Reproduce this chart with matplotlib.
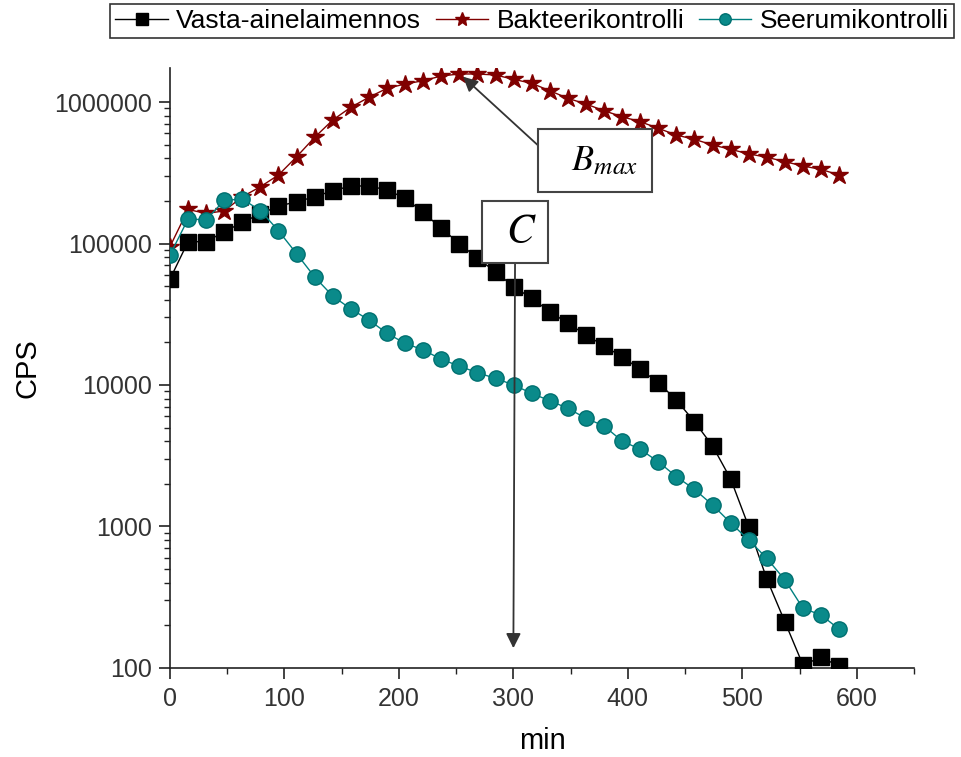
import matplotlib
matplotlib.use("Agg")
import matplotlib.pyplot as plt
from matplotlib.ticker import LogLocator, FixedLocator, MultipleLocator, FuncFormatter

plt.rcParams['font.family'] = ['Liberation Sans', 'DejaVu Sans']
plt.rcParams['mathtext.fontset'] = 'stix'

# measurement times (min)
time_min = [0, 15.8, 31.6, 47.4, 63.2, 79.0, 94.8, 110.6, 126.4, 142.2,
            158.0, 173.8, 189.6, 205.4, 221.2, 237.0, 252.8, 268.6, 284.4, 300.2,
            316.0, 331.8, 347.6, 363.4, 379.2, 395.0, 410.8, 426.6, 442.4, 458.2,
            474.0, 489.8, 505.6, 521.4, 537.2, 553.0, 568.8, 584.6]

vasta = [56000, 103000, 103000, 121000, 141000, 162000, 184000, 197000, 214000, 236000,
         255000, 255000, 239000, 209000, 166000, 128000, 100000, 78600, 63200, 49500,
         41000, 33000, 27300, 22600, 18900, 15800, 12900, 10400, 7830, 5500,
         3710, 2170, 997, 426, 212, 105, 119, 103]

bakteeri = [95000, 174000, 163000, 170000, 214000, 252000, 305000, 410000, 563000, 746000,
            918000, 1080000, 1250000, 1340000, 1415000, 1527000, 1578000, 1578000, 1552000, 1447000,
            1356000, 1202000, 1062000, 968000, 868000, 787000, 726000, 652000, 584000, 545000,
            497000, 463000, 430000, 407000, 379000, 353000, 334000, 305000]

seerumi = [83000, 149000, 147000, 202000, 206000, 171000, 123000, 84700, 58000, 42500,
           34500, 28800, 23200, 19700, 17700, 15200, 13600, 12200, 11150, 10000,
           8730, 7740, 6840, 5820, 5130, 4020, 3510, 2870, 2250, 1830,
           1420, 1060, 803, 596, 419, 264, 237, 188]

labels = ['Vasta-ainelaimennos', 'Bakteerikontrolli', 'Seerumikontrolli']

fig = plt.figure(figsize=(9.62, 7.57), dpi=100)
ax = fig.add_axes([0.1767, 0.1176, 0.9501 - 0.1767, 0.9102 - 0.1176])

ax.plot(time_min, vasta, '-s', color='black', lw=1.0, ms=11.5,
        label=labels[0], zorder=3)
ax.plot(time_min, bakteeri, '-*', color='#800000', lw=1.0, ms=13.5,
        label=labels[1], zorder=3)
ax.plot(time_min, seerumi, '-o', color='#008080', lw=1.0, ms=11,
        mfc='#0a8a8a', mec='#007070', label=labels[2], zorder=4)

ax.set_yscale('log')
ax.set_xlim(0, 650)
ax.set_ylim(100, 1.74e6)

ax.xaxis.set_minor_locator(MultipleLocator(50))
ax.set_xticks([0, 100, 200, 300, 400, 500, 600])
ax.yaxis.set_major_locator(FixedLocator([100, 1000, 10000, 100000, 1000000]))
ax.yaxis.set_minor_locator(LogLocator(base=10, subs=range(2, 10)))
ax.yaxis.set_major_formatter(FuncFormatter(lambda v, p: f'{int(round(v))}'))

ax.spines['top'].set_visible(False)
ax.spines['right'].set_visible(False)
for s in ['left', 'bottom']:
    ax.spines[s].set_linewidth(1.2)
    ax.spines[s].set_color('#222222')

ax.tick_params(which='major', direction='out', length=8, width=1.2,
               labelsize=18, colors='#222222', labelcolor='#333333')
ax.tick_params(axis='x', which='major', pad=6)
ax.tick_params(axis='y', which='major', pad=5)
ax.tick_params(which='minor', direction='out', length=4, width=1.0, colors='#222222')

ax.set_xlabel('min', fontsize=21, labelpad=11)
ax.set_ylabel('CPS', fontsize=21, labelpad=9)

ax.annotate(r'$\;\;\,B_{max}\;\;\,$', xy=(256, 1.51e6), xytext=(371.5, 3.86e5),
            fontsize=26, ha='center', va='center', zorder=5,
            bbox=dict(boxstyle='square,pad=0.4', fc='white', ec='#444444', lw=1.5),
            arrowprops=dict(arrowstyle='-|>', color='#333333', lw=1.3,
                            mutation_scale=22, relpos=(0, 0.55), shrinkA=0, shrinkB=0))
ax.annotate(r'$\;\,C\;\,$', xy=(300, 138), xytext=(301.5, 1.21e5),
            fontsize=30, ha='center', va='center', zorder=5,
            bbox=dict(boxstyle='square,pad=0.26', fc='white', ec='#444444', lw=1.5),
            arrowprops=dict(arrowstyle='-|>', color='#333333', lw=1.3,
                            mutation_scale=22, relpos=(0.5, 0), shrinkA=0, shrinkB=0))

leg = fig.legend(loc='upper center', bbox_to_anchor=(0.553, 0.995), ncol=3,
                 fontsize=19, frameon=True, fancybox=False, edgecolor='black',
                 borderpad=0.2, handlelength=2.0, handletextpad=0.3,
                 columnspacing=0.55, markerscale=0.75, borderaxespad=0)
leg.get_frame().set_linewidth(1.2)

fig.savefig('out.png', dpi=100)
